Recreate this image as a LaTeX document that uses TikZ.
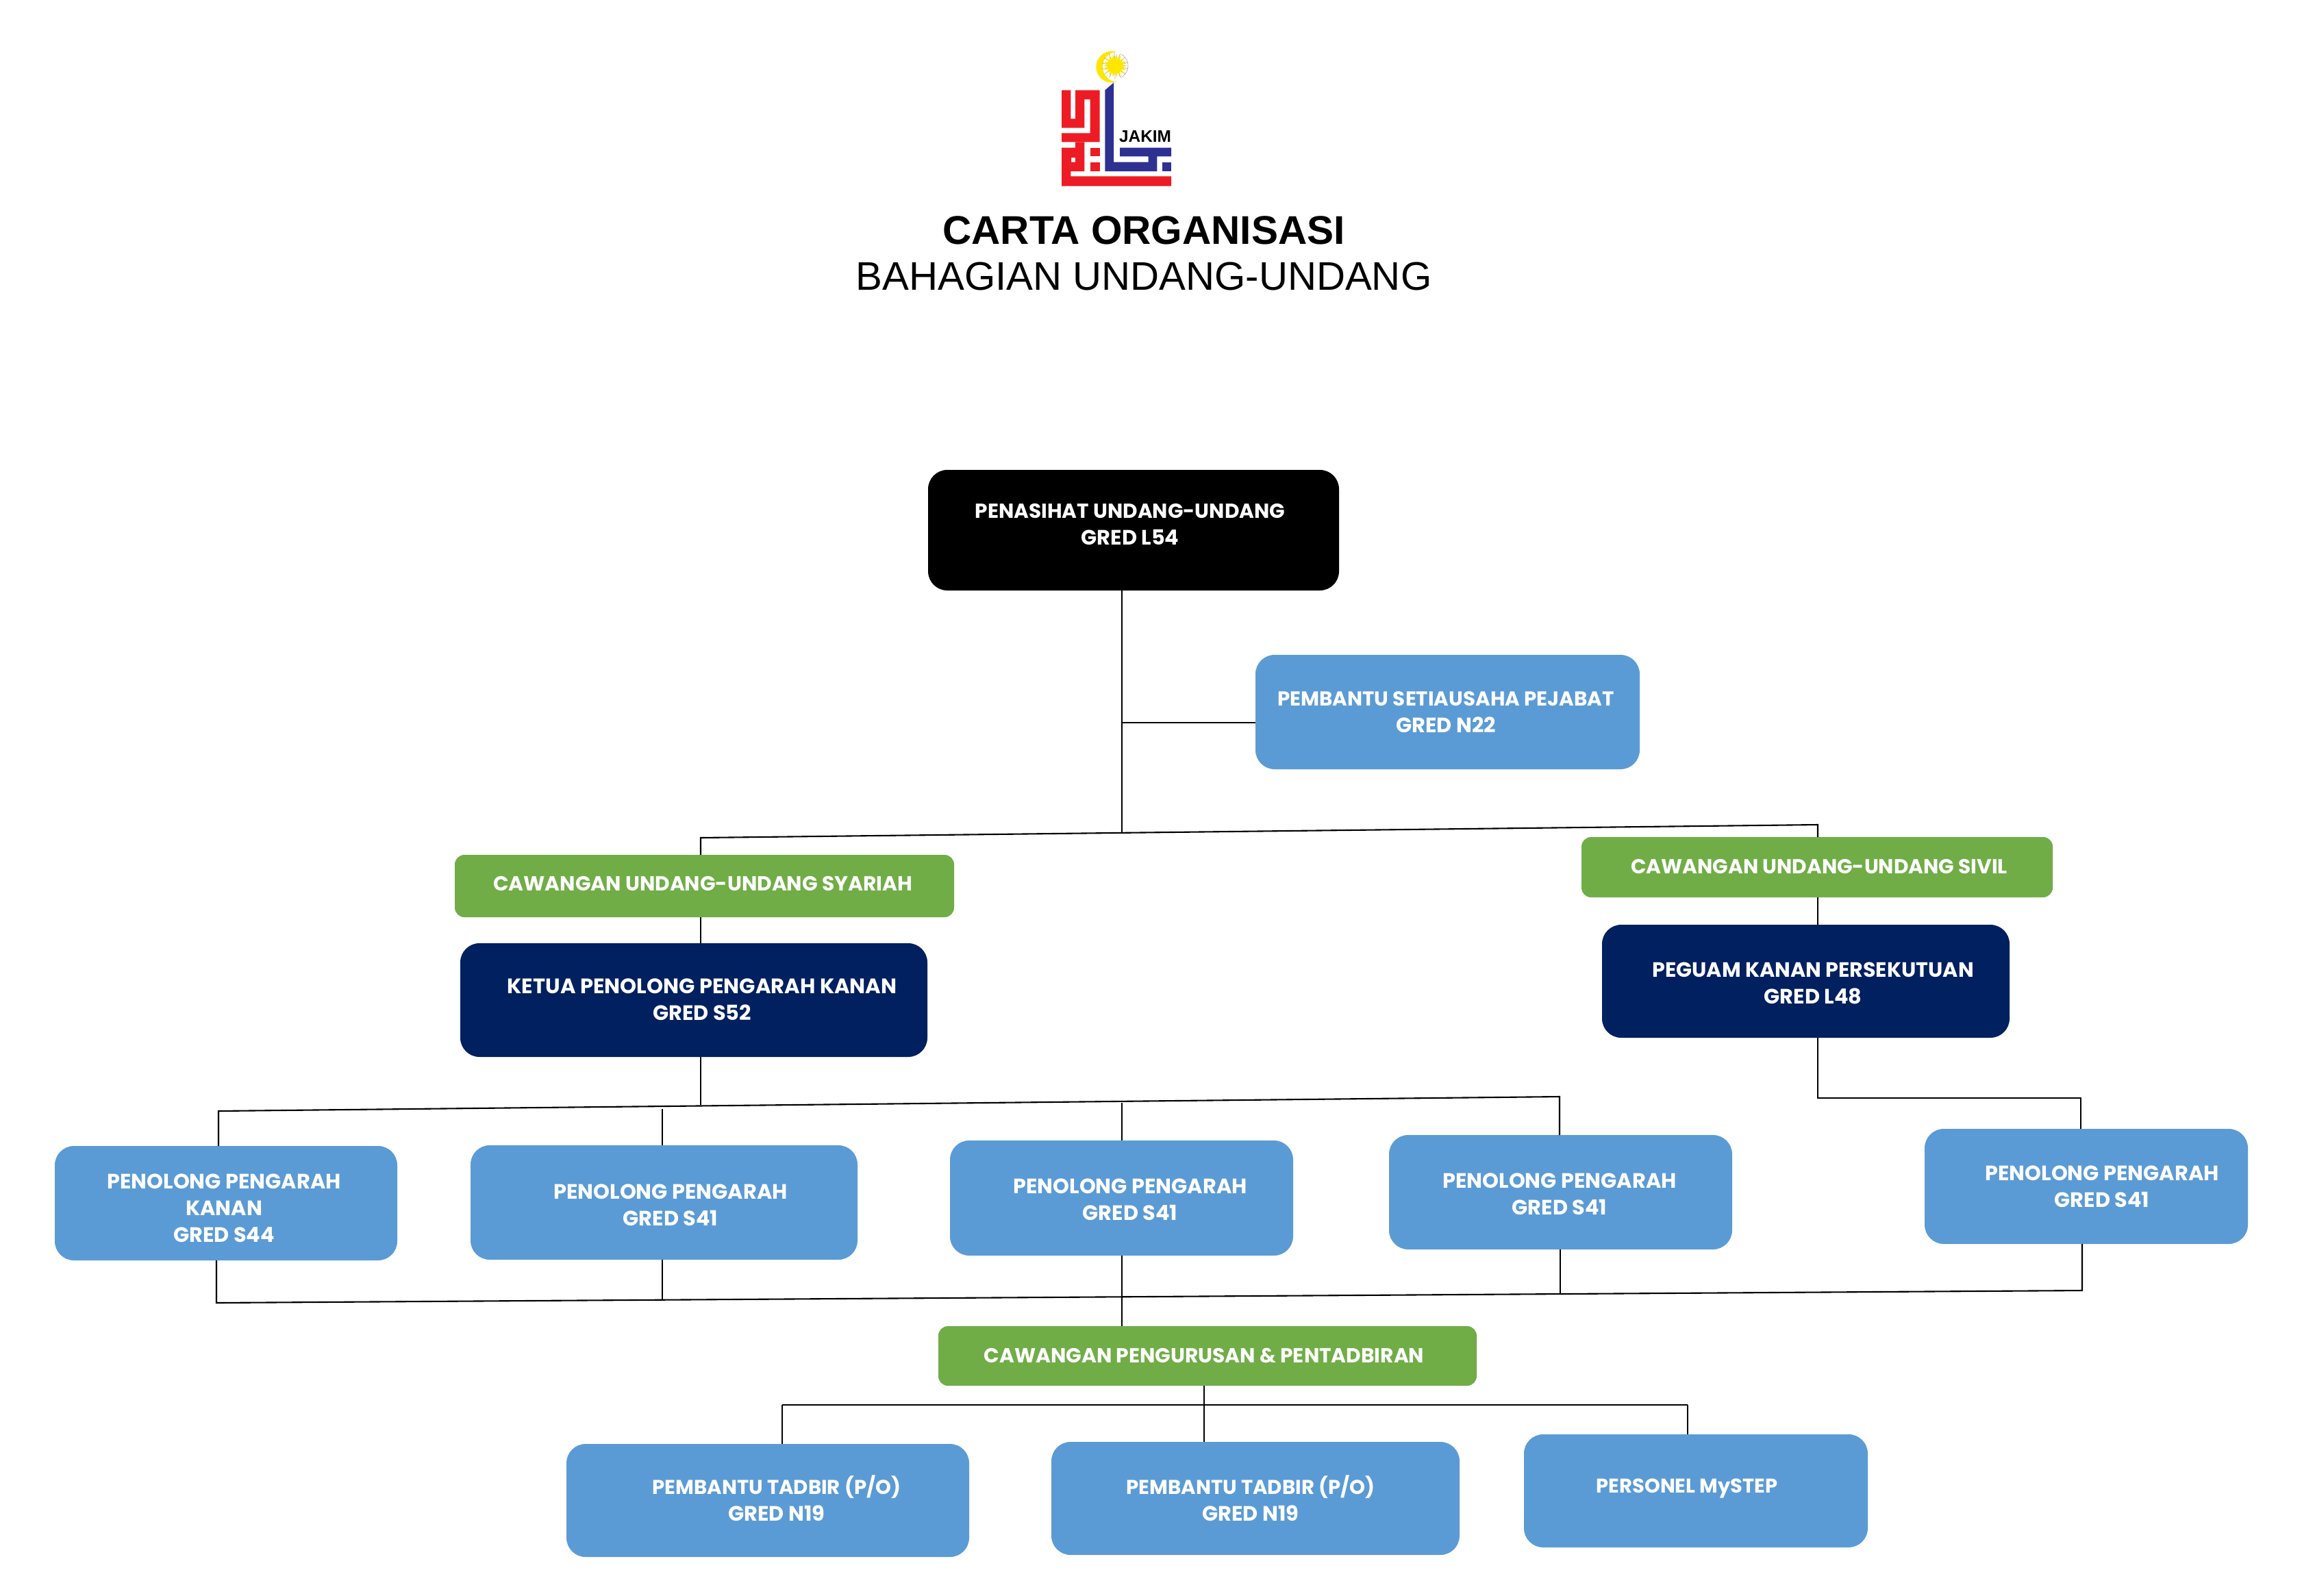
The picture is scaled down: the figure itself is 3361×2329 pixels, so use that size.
\documentclass[tikz,border=0pt]{standalone}
\usepackage{fontspec}
\setmainfont{Liberation Sans}
\newfontfamily\boxfont{Poppins}
\definecolor{cblue}{HTML}{5B9BD5}
\definecolor{cgreen}{HTML}{70AD47}
\definecolor{cnavy}{HTML}{002060}
\definecolor{lred}{HTML}{ED1C24}
\definecolor{lblue}{HTML}{2E3192}
\definecolor{lyel}{HTML}{FFE600}
\newcommand{\sz}[1]{\fontsize{#1pt}{19.5pt}\selectfont}
\tikzset{
 boxbase/.style={rectangle,inner sep=0pt,outer sep=0pt,rounded corners=14pt},
 blueb/.style={boxbase,fill=cblue},
 navyb/.style={boxbase,fill=cnavy},
 blackb/.style={boxbase,fill=black},
 greenb/.style={boxbase,fill=cgreen,rounded corners=7pt},
 boxtext/.style={text=white,align=center,inner sep=0pt,font=\boxfont\bfseries\fontsize{15.2pt}{19.5pt}\selectfont},
 link/.style={draw=black,line width=1.05pt,line join=miter},
}
% name, x0, y0, x1, y1, style, text x, text y, text
\newcommand{\bx}[9]{%
 \pgfmathsetmacro{\bw}{(#4-#2)*0.5}\pgfmathsetmacro{\bh}{(#5-#3)*0.5}%
 \pgfmathsetmacro{\cxx}{(#2+#4)/2}\pgfmathsetmacro{\cyy}{(#3+#5)/2}%
 \node[#6,minimum width=\bw pt,minimum height=\bh pt] (#1) at (\cxx,\cyy) {};%
 \node[boxtext] (#1t) at (#7,#8) {#9};%
}
\begin{document}
\begin{tikzpicture}[x=0.5pt,y=-0.5pt]
\path[use as bounding box] (0,0) rectangle (3361,2329);
% logo
\begin{scope}[shift={(1500,50)},x=0.16667pt,y=-0.16667pt]
 \fill[lred] (150,245)--(190,245)--(190,370)--(210,370)--(210,245)--(317,245)--(317,472)--(150,472)--(150,433)--(275,433)--(275,285)--(250,285)--(250,410)--(150,410)--cycle;
 \fill[lred,even odd rule] (210,472)--(250,472)--(250,600)--(190,600)--(190,622)--(630,622)--(630,665)--(150,665)--(150,497)--(210,497)--cycle (192,540) rectangle (210,560);
 \fill[lred] (275,497) rectangle (317,535);
 \fill[lred] (275,560) rectangle (317,600);
 \fill[lblue] (340,245)--(378,212)--(378,560)--(530,560)--(530,535)--(405,535)--(405,497)--(630,497)--(630,535)--(568,535)--(568,600)--(340,600)--cycle;
 \fill[lblue] (590,560) rectangle (630,600);
 \node[inner sep=0pt,font=\bfseries\fontsize{12.2pt}{14pt}\selectfont] (jakim) at (516,447) {JAKIM};
 \fill[lyel] (370,143) circle[radius=69];
 \fill[white] (396,143) circle[radius=66];
 \foreach \a in {0,25.7,...,340} {\draw[gray!70,line width=0.3pt] (383,138)++(\a+12:34)--++(\a+12:24);}
 \draw[gray!70,line width=0.3pt] (383,138) ++(60:58) arc[start angle=60,end angle=-60,radius=58];
 \fill[lyel] ({383+57},138)
   \foreach \a in {20,40,...,360} { -- ({383+32*cos(\a-10)},{138+32*sin(\a-10)}) -- ({383+(57-8*abs(sin(\a/2)))*cos(\a)},{138+(57-8*abs(sin(\a/2)))*sin(\a)})} -- cycle;
\end{scope}
% title
\node[inner sep=0pt,font=\bfseries\fontsize{29.25pt}{34pt}\selectfont] (title) at (1670,336) {CARTA ORGANISASI};
\node[inner sep=0pt,font=\fontsize{29.1pt}{34pt}\selectfont] (subtitle) at (1670,403) {BAHAGIAN UNDANG-UNDANG};
% junctions
\coordinate (j1) at (1023,1223);
\coordinate (j2) at (2654,1204);
\coordinate (j0) at (1638,1216);
\coordinate (j3) at (1638,1055);
\coordinate (k1) at (319,1622);
\coordinate (k2) at (967,1619);
\coordinate (k3) at (1638,1610);
\coordinate (k4) at (2277,1601);
\coordinate (k0) at (1023,1613);
\coordinate (p1) at (2654,1603);
\coordinate (p2) at (3038,1603);
\coordinate (m1) at (316,1902);
\coordinate (m2) at (967,1897);
\coordinate (m3) at (1638,1894);
\coordinate (m4) at (2278,1889);
\coordinate (m5) at (3040,1884);
\coordinate (n1) at (1142,2051);
\coordinate (n2) at (1758,2051);
\coordinate (n3) at (2464,2051);
% boxes
\bx{adv}{1355}{686}{1955}{862}{blackb}{1650}{766}{\sz{14.8}PENASIHAT UNDANG-UNDANG\\GRED L54}
\bx{psu}{1833}{956}{2394}{1123}{blueb}{2111}{1040}{\sz{14.7}PEMBANTU SETIAUSAHA PEJABAT\\GRED N22}
\bx{gs}{664}{1248}{1393}{1339}{greenb}{1026}{1290}{\sz{14.85}CAWANGAN UNDANG-UNDANG SYARIAH}
\bx{ket}{672}{1377}{1354}{1543}{navyb}{1025}{1459}{\sz{15.3}KETUA PENOLONG PENGARAH KANAN\\GRED S52}
\bx{gv}{2309}{1222}{2997}{1310}{greenb}{2656}{1265}{\sz{14.8}CAWANGAN UNDANG-UNDANG SIVIL}
\bx{peg}{2339}{1350}{2934}{1515}{navyb}{2647}{1435}{\sz{15.1}PEGUAM KANAN PERSEKUTUAN\\GRED L48}
\bx{pa}{80}{1673}{580}{1840}{blueb}{327}{1764}{PENOLONG PENGARAH\\KANAN\\GRED S44}
\bx{pb}{687}{1672}{1252}{1839}{blueb}{979}{1759}{PENOLONG PENGARAH\\GRED S41}
\bx{pc}{1387}{1665}{1888}{1833}{blueb}{1650}{1751}{PENOLONG PENGARAH\\GRED S41}
\bx{pd}{2028}{1657}{2529}{1824}{blueb}{2277}{1743}{PENOLONG PENGARAH\\GRED S41}
\bx{pe}{2810}{1648}{3282}{1816}{blueb}{3069}{1732}{PENOLONG PENGARAH\\GRED S41}
\bx{gp}{1370}{1936}{2156}{2023}{greenb}{1758}{1979}{\sz{14.85}CAWANGAN PENGURUSAN \& PENTADBIRAN}
\bx{ta}{827}{2108}{1415}{2273}{blueb}{1134}{2187}{\sz{14.6}PEMBANTU TADBIR (P/O)\\GRED N19}
\bx{tb}{1535}{2105}{2131}{2270}{blueb}{1826}{2187}{\sz{14.6}PEMBANTU TADBIR (P/O)\\GRED N19}
\bx{tc}{2225}{2094}{2727}{2259}{blueb}{2463}{2173}{\sz{14.5}PERSONEL MySTEP}
% connectors
\draw[link] (adv.south -| j0) -- (j0);
\draw[link] (j3) -- (psu.west |- j3);
\draw[link] (gs.north -| j1) -- (j1) -- (j2) -- (gv.north -| j2);
\draw[link] (gs.south -| j1) -- (ket.north -| j1);
\draw[link] (gv.south -| j2) -- (peg.north -| j2);
\draw[link] (ket.south -| k0) -- (k0);
\draw[link] (pa.north -| k1) -- (k1) -- (k4) -- (pd.north -| k4);
\draw[link] (k2) -- (pb.north -| k2);
\draw[link] (k3) -- (pc.north -| k3);
\draw[link] (peg.south -| p1) -- (p1) -- (p2) -- (pe.north -| p2);
\draw[link] (pa.south -| m1) -- (m1) -- (m5) -- (pe.south -| m5);
\draw[link] (pb.south -| m2) -- (m2);
\draw[link] (pc.south -| m3) -- (gp.north -| m3);
\draw[link] (pd.south -| m4) -- (m4);
\draw[link] (n1) -- (n3);
\draw[link] (n1) -- (ta.north -| n1);
\draw[link] (gp.south -| n2) -- (tb.north -| n2);
\draw[link] (n3) -- (tc.north -| n3);
\end{tikzpicture}
\end{document}
